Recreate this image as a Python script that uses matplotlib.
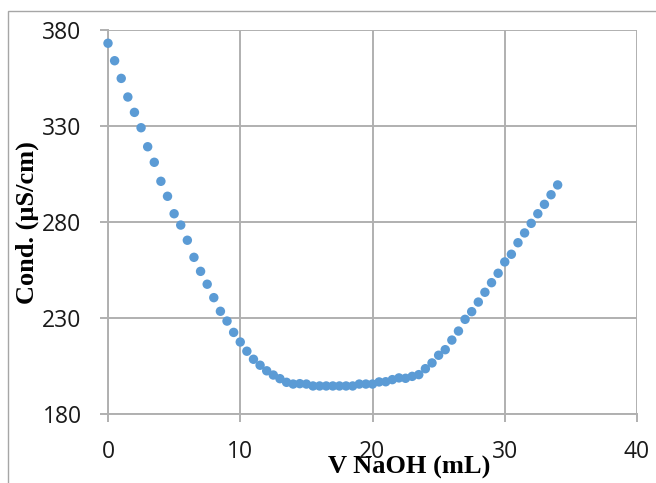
import matplotlib.pyplot as plt
from matplotlib.patches import Rectangle

# titration volume (mL) and conductivity (uS/cm)
v_naoh = [0, 0.5, 1, 1.5, 2, 2.5, 3, 3.5, 4, 4.5,
          5, 5.5, 6, 6.5, 7, 7.5, 8, 8.5, 9, 9.5,
          10, 10.5, 11, 11.5, 12, 12.5, 13, 13.5, 14, 14.5,
          15, 15.5, 16, 16.5, 17, 17.5, 18, 18.5, 19, 19.5,
          20, 20.5, 21, 21.5, 22, 22.5, 23, 23.5, 24, 24.5,
          25, 25.5, 26, 26.5, 27, 27.5, 28, 28.5, 29, 29.5,
          30, 30.5, 31, 31.5, 32, 32.5, 33, 33.5, 34]
cond = [373.1, 364.0, 354.8, 345.1, 337.1, 329.1, 319.2, 311.1, 301.2, 293.4,
        284.3, 278.4, 270.5, 261.6, 254.3, 247.6, 240.6, 233.5, 228.4, 222.5,
        217.5, 212.7, 208.5, 205.4, 202.5, 200.3, 198.4, 196.5, 195.6, 195.8,
        195.6, 194.6, 194.6, 194.6, 194.6, 194.6, 194.6, 194.6, 195.6, 195.6,
        195.6, 196.7, 196.8, 197.9, 198.8, 198.6, 199.6, 200.5, 203.6, 206.6,
        210.6, 213.5, 218.5, 223.2, 229.3, 233.3, 238.3, 243.4, 248.4, 253.3,
        259.2, 263.2, 269.2, 274.3, 279.3, 284.3, 289.2, 294.2, 299.3]

x_ticks = [0, 10, 20, 30, 40]
y_ticks = [180, 230, 280, 330, 380]

W, H = 656, 483
fig = plt.figure(figsize=(W / 100, H / 100), dpi=100)

# outer chart frame
fig.patches.append(Rectangle((8 / W, -0.1), 1.1, 1 - 11 / H + 0.1,
                             transform=fig.transFigure, fill=False,
                             edgecolor='#a6a6a6', linewidth=1.0))

ax = fig.add_axes([108 / W, 1 - 414 / H, (637 - 108) / W, (414 - 30) / H])
ax.scatter(v_naoh, cond, s=46, color='#5b9bd5', edgecolors='none', zorder=3, clip_on=False)

ax.set_xlim(0, 40)
ax.set_ylim(180, 380)
ax.set_xticks(x_ticks)
ax.set_yticks(y_ticks)
ax.grid(True, color='#b0b0b0', linewidth=1.4)
ax.set_axisbelow(True)
for s in ['top', 'right']:
    ax.spines[s].set_visible(False)
for s in ['left', 'bottom']:
    ax.spines[s].set_color('#b0b0b0')
    ax.spines[s].set_linewidth(1.4)
ax.tick_params(length=6, width=1.4, color='#b0b0b0', labelcolor='#1a1a1a')
ax.tick_params(axis='x', pad=13)
ax.tick_params(axis='y', pad=13)
for lab in ax.get_xticklabels() + ax.get_yticklabels():
    lab.set_fontfamily(['Open Sans', 'DejaVu Sans'])
    lab.set_fontsize(16.5)

fig.text(409 / W, 1 - 467 / H, 'V NaOH (mL)', ha='center', va='center',
         family='Liberation Serif', weight='bold', fontsize=19)
fig.text(27 / W, 1 - 223 / H, 'Cond. (µS/cm)', ha='center', va='center', rotation=90,
         family='Liberation Serif', weight='bold', fontsize=19)

fig.savefig('out.png', dpi=100)
